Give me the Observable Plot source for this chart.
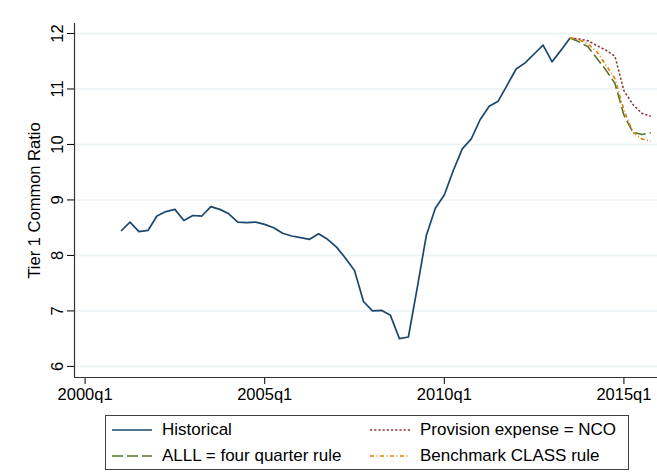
<!DOCTYPE html>
<html><head><meta charset="utf-8">
<script src="https://cdn.jsdelivr.net/npm/d3@7"></script>
<script src="https://cdn.jsdelivr.net/npm/@observablehq/plot@0.6"></script>
<style>
body{margin:0;background:#fff;font-family:"Liberation Sans",Arial,sans-serif;}
#wrap{position:relative;width:657px;height:472px;overflow:hidden;background:#fff;}
#legend{position:absolute;left:105px;top:415px;width:524px;height:55px;border:1px solid #404040;box-sizing:border-box;}
.item{position:absolute;display:flex;align-items:center;font-size:17px;color:#000;white-space:nowrap;line-height:20px;}
.item svg{margin-right:10px;}
</style></head><body><div id="wrap"><div id="chart"></div><div id="legend"></div></div>
<script>
const histQuarters = ["2001q1","2001q2","2001q3","2001q4","2002q1","2002q2","2002q3","2002q4",
  "2003q1","2003q2","2003q3","2003q4","2004q1","2004q2","2004q3","2004q4",
  "2005q1","2005q2","2005q3","2005q4","2006q1","2006q2","2006q3","2006q4",
  "2007q1","2007q2","2007q3","2007q4","2008q1","2008q2","2008q3","2008q4",
  "2009q1","2009q2","2009q3","2009q4","2010q1","2010q2","2010q3","2010q4",
  "2011q1","2011q2","2011q3","2011q4","2012q1","2012q2","2012q3","2012q4",
  "2013q1","2013q2","2013q3"];
const historical = [8.44,8.60,8.43,8.45,8.71,8.79,8.83,8.63,
  8.72,8.71,8.88,8.83,8.75,8.60,8.59,8.60,
  8.56,8.50,8.40,8.35,8.32,8.29,8.39,8.29,
  8.15,7.95,7.73,7.17,7.00,7.01,6.92,6.50,
  6.53,7.43,8.36,8.85,9.09,9.53,9.92,10.10,
  10.45,10.69,10.78,11.07,11.36,11.47,11.63,11.79,
  11.49,11.70,11.92];
const fcQuarters = ["2013q3","2013q4","2014q1","2014q2","2014q3","2014q4","2015q1","2015q2","2015q3","2015q4"];
const provisionNCO = [11.92,11.90,11.87,11.78,11.70,11.59,10.97,10.72,10.56,10.51];
const alllFourQuarter = [11.92,11.85,11.76,11.55,11.34,11.10,10.53,10.22,10.18,10.21];
const benchmarkCLASS = [11.92,11.89,11.81,11.67,11.43,11.19,10.62,10.22,10.10,10.06];
const xTickLabels = ["2000q1","2005q1","2010q1","2015q1"];
const yTicks = [6,7,8,9,10,11,12];
const seriesNames = ["Historical","Provision expense = NCO","ALLL = four quarter rule","Benchmark CLASS rule"];

const qIndex = s => (+s.slice(0,4) - 2000) * 4 + (+s.slice(5) - 1);
const qLabel = t => `${2000 + Math.floor(t/4)}q${(t % 4) + 1}`;

const styles = {
  "Historical": {stroke:"#1a476f", dash:null, width:1.7},
  "Provision expense = NCO": {stroke:"#90353b", dash:"2.2,2", width:1.6},
  "ALLL = four quarter rule": {stroke:"#55752f", dash:"11,4", width:1.6},
  "Benchmark CLASS rule": {stroke:"#e37e00", dash:"4,2.5,1,2.5", width:1.6}
};

const hist = histQuarters.map((q,i)=>({t:qIndex(q), v:historical[i]}));
const mk = arr => fcQuarters.map((q,i)=>({t:qIndex(q), v:arr[i]}));
const fc = {
  "Provision expense = NCO": mk(provisionNCO),
  "ALLL = four quarter rule": mk(alllFourQuarter),
  "Benchmark CLASS rule": mk(benchmarkCLASS)
};

const xDom = [-1.18, 63.74];
const yDom = [5.8, 12.18];

const lineMark = (data, name) => Plot.line(data, {x:"t", y:"v", stroke: styles[name].stroke,
  strokeWidth: styles[name].width, strokeDasharray: styles[name].dash, strokeLinejoin:"round", strokeLinecap:"butt"});

const chart = Plot.plot({
  width: 657, height: 410,
  marginLeft: 74, marginRight: 0, marginTop: 23, marginBottom: 33,
  style: {fontFamily: '"Liberation Sans", Arial, sans-serif', fontSize: "16.5px", color:"#000", background:"#fff"},
  x: {type:"linear", domain: xDom},
  y: {domain: yDom},
  marks: [
    Plot.gridY(yTicks, {stroke:"#eaf2f3", strokeOpacity:1, strokeWidth:1.5}),
    Plot.axisY(yTicks, {tickSize:7, tickRotate:-90, tickPadding:5, tickFormat:d3.format("d"), label:"Tier 1 Common Ratio", labelAnchor:"center", labelArrow:"none", labelOffset:46, stroke:"#000"}),
    Plot.axisX(xTickLabels.map(qIndex), {tickSize:7, tickPadding:4, tickFormat:qLabel, label:null, stroke:"#000"}),
    Plot.ruleX([xDom[0]], {y1:yDom[0], y2:yDom[1], stroke:"#333", strokeWidth:1.2}),
    Plot.ruleY([yDom[0]], {stroke:"#333", strokeWidth:1.2}),
    lineMark(hist, "Historical"),
    lineMark(fc["Provision expense = NCO"], "Provision expense = NCO"),
    lineMark(fc["ALLL = four quarter rule"], "ALLL = four quarter rule"),
    lineMark(fc["Benchmark CLASS rule"], "Benchmark CLASS rule")
  ]
});
document.getElementById("chart").appendChild(chart);

// legend
const legend = document.getElementById("legend");
const order = [["Historical",0,0],["Provision expense = NCO",1,0],["ALLL = four quarter rule",0,1],["Benchmark CLASS rule",1,1]];
const colLeft = [6, 264];
const rowTop = [4, 30];
for (const [name,c,r] of order) {
  const s = styles[name];
  const d = document.createElement("div");
  d.className = "item";
  d.style.left = colLeft[c] + "px";
  d.style.top = rowTop[r] + "px";
  d.innerHTML = `<svg width="40" height="6"><line x1="0" x2="40" y1="3" y2="3" stroke="${s.stroke}" stroke-width="${s.width}" ${s.dash?`stroke-dasharray="${s.dash}"`:""}/></svg><span>${name}</span>`;
  legend.appendChild(d);
}
</script></body></html>
